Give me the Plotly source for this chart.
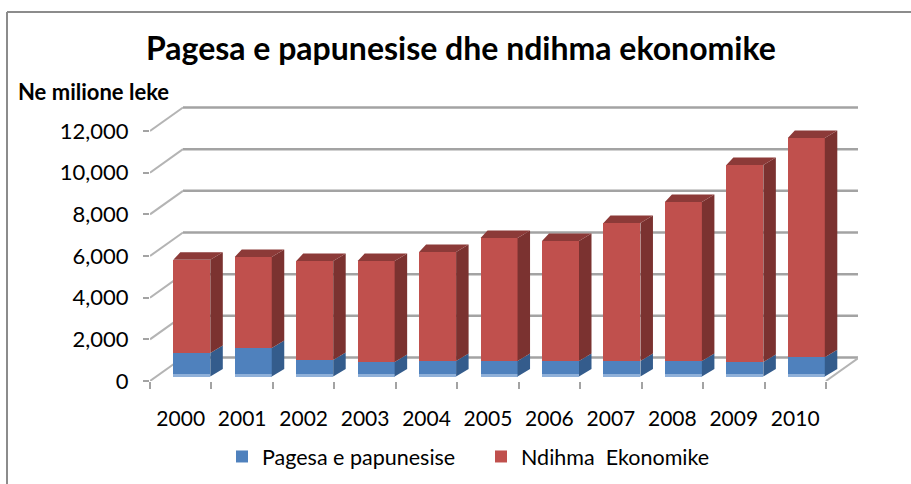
import plotly.graph_objects as go

years = ["2000","2001","2002","2003","2004","2005","2006","2007","2008","2009","2010"]
pagesa = [1130,1370,790,700,740,740,740,740,740,700,930]
totals = [5600,5740,5540,5540,5980,6650,6500,7370,8380,10150,11450]
ndihma = [t-p for t,p in zip(totals,pagesa)]
y_ticks = [0,2000,4000,6000,8000,10000,12000]

W,H = 911,484
L,R,T,B = 150,858,100,381
cell = 61.45          # px per category
upp = 48.0            # value units per px
xu = lambda px: px/cell
yu = lambda px: px*upp

n = len(years)
bar_off, bar_w = xu(23.3), xu(37)
base0 = yu(4.5)
lefts = [i+bar_off for i in range(n)]
rights = [l+bar_w for l in lefts]
centers = [l+bar_w/2 for l in lefts]
sdx, ldx, ddy = xu(12.5), xu(7), yu(7.5)

GREY = "#a3a3a3"
fnt = "Lato"

def poly(pts_list):
    xs,ys=[],[]
    for pts in pts_list:
        for a,b in pts:
            xs.append(a); ys.append(b)
        xs.append(pts[0][0]); ys.append(pts[0][1])
        xs.append(None); ys.append(None)
    return xs,ys

def face(pts_list,color):
    xs,ys=poly(pts_list)
    return go.Scatter(x=xs,y=ys,mode="lines",fill="toself",fillcolor=color,
                      line=dict(width=0,color=color),hoverinfo="skip",showlegend=False)

fig = go.Figure()
fig.add_trace(go.Bar(x=centers,y=pagesa,base=[base0]*n,width=bar_w,name="Pagesa e papunesise",
                     marker=dict(color="#4f81bd",line=dict(width=0))))
fig.add_trace(go.Bar(x=centers,y=ndihma,base=[base0+p for p in pagesa],width=bar_w,name="Ndihma  Ekonomike",
                     marker=dict(color="#c0504d",line=dict(width=0))))
fig.add_trace(go.Bar(x=centers,y=[yu(3)]*n,base=[base0]*n,width=bar_w,showlegend=False,hoverinfo="skip",
                     marker=dict(color="#8fb0d9",line=dict(width=0))))

blue_side=[[(r,base0),(r+sdx,base0+ddy),(r+sdx,base0+ddy+p),(r,base0+p)] for r,p in zip(rights,pagesa)]
red_side=[[(r,base0+p),(r+sdx,base0+ddy+p),(r+sdx,base0+ddy+t),(r,base0+t)] for r,p,t in zip(rights,pagesa,totals)]
red_top=[[(l,base0+t),(r,base0+t),(r+sdx,base0+ddy+t),(l+ldx,base0+ddy+t)] for l,r,t in zip(lefts,rights,totals)]
fig.add_trace(face(blue_side,"#345c8c"))
fig.add_trace(face(red_side,"#7b3230"))
fig.add_trace(face(red_top,"#8c3a38"))

wall_dx, wall_dy = xu(33), yu(23.5)
x_end = xu(R-L)
shapes=[]
for v in y_ticks:
    shapes.append(dict(type="line",xref="x",yref="y",x0=wall_dx,x1=x_end,y0=v+wall_dy,y1=v+wall_dy,
                       line=dict(color=GREY,width=2.5),layer="below"))
    shapes.append(dict(type="line",xref="x",yref="y",x0=0,x1=wall_dx,y0=v,y1=v+wall_dy,
                       line=dict(color="#b4b4b4",width=2),layer="below"))
shapes.append(dict(type="line",xref="x",yref="y",x0=n,x1=n+wall_dx,y0=0,y1=wall_dy,
                   line=dict(color="#b4b4b4",width=2),layer="below"))
# chart frame
fx=lambda p:(p-L)/(R-L)
fy=lambda p:(B-p)/(B-T)
shapes.append(dict(type="line",xref="paper",yref="paper",x0=fx(7),x1=fx(W+2),y0=fy(12),y1=fy(12),line=dict(color="#8c8c8c",width=2)))
shapes.append(dict(type="line",xref="paper",yref="paper",x0=fx(7),x1=fx(7),y0=fy(12),y1=fy(H+2),line=dict(color="#8c8c8c",width=2)))

fig.update_layout(
    width=W,height=H,
    margin=dict(l=L,r=W-R,t=T,b=H-B,autoexpand=False),
    paper_bgcolor="white",plot_bgcolor="white",
    barmode="overlay",bargap=0,
    font=dict(family=fnt,color="#000000"),
    showlegend=True,
    legend=dict(orientation="h",xref="paper",yref="paper",x=fx(222),y=fy(436),xanchor="left",yanchor="top",
                font=dict(size=21.5,family=fnt),bgcolor="rgba(0,0,0,0)",traceorder="normal",
                entrywidth=214,entrywidthmode="pixels",itemclick=False),
    shapes=shapes,
    annotations=[
        dict(text="<b>Pagesa e papunesise dhe ndihma ekonomike</b>",xref="paper",yref="paper",x=fx(461),y=fy(48),
             xanchor="center",yanchor="middle",showarrow=False,font=dict(size=32,family=fnt)),
        dict(text="<b>Ne milione leke</b>",xref="paper",yref="paper",x=fx(16),y=fy(91),
             xanchor="left",yanchor="middle",showarrow=False,font=dict(size=22,family=fnt)),
    ],
    xaxis=dict(range=[0,x_end],tickmode="array",tickvals=[i+0.5 for i in range(n)],ticktext=years,
               ticks="",showgrid=False,zeroline=False,showline=False,tickangle=0,
               tickfont=dict(size=21,family=fnt,color="#000"),ticklabelstandoff=23,
               minor=dict(tickmode="array",tickvals=list(range(n+1)),ticks="outside",ticklen=7,tickwidth=2,tickcolor=GREY,showgrid=False)),
    yaxis=dict(range=[0,(B-T)*upp],tickmode="array",tickvals=y_ticks,tickformat=",",
               ticks="outside",ticklen=6,tickwidth=2,tickcolor=GREY,showgrid=False,zeroline=False,showline=False,
               tickfont=dict(size=22,family=fnt,color="#000"),ticklabelstandoff=10),
)
fig.write_html("out.html",post_script="document.body.style.margin='0';",config={"displayModeBar":False})
